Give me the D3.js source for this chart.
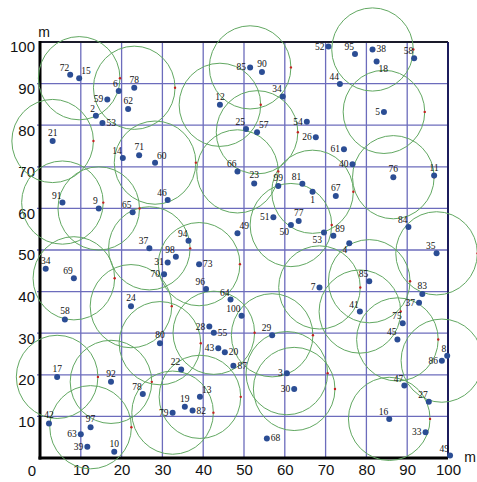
<!DOCTYPE html>
<html>
<head>
<meta charset="utf-8">
<script src="https://cdn.jsdelivr.net/npm/d3@7"></script>
<style>
  body { margin: 0; background: #fff; }
  svg { display: block; }
</style>
</head>
<body>
<div id="chart"></div>
<script>
// node ids, positions (m) and which nodes carry a coverage circle
var ids = [72, 15, 6, 78, 59, 62, 2, 53, 21, 14, 71, 60, 85, 90, 12, 34, 25, 57, 54, 26,
  66, 23, 99, 81, 52, 95, 38, 18, 58, 44, 5, 61, 40, 76, 11, 91, 9, 65, 37, 34,
  69, 24, 58, 46, 51, 77, 50, 49, 94, 98, 31, 73, 70, 96, 64, 100, 1, 67, 84, 89,
  53, 4, 35, 85, 7, 83, 37, 41, 75, 17, 92, 78, 42, 97, 63, 39, 10, 80, 28, 55,
  29, 43, 20, 87, 22, 3, 30, 13, 19, 79, 82, 68, 45, 8, 86, 47, 27, 16, 33, 49];
var xs = [7.4, 9.6, 19.3, 23.1, 16.5, 21.6, 13.7, 15.3, 3.1, 20.3, 24.3, 28.2, 51.5, 54.4, 44.1, 59.5, 50.5, 53.2, 65.4, 67.6,
  48.4, 52.5, 58.4, 64.3, 70.7, 77.2, 81.5, 82.5, 91.7, 73.5, 84.3, 74.5, 76.6, 86.6, 96.6, 5.5, 14.4, 22.7, 26.8, 1.4,
  8.3, 22.3, 6.1, 31.3, 57.2, 63.4, 61.5, 48.4, 36.4, 33.3, 31.3, 39.0, 30.4, 40.7, 46.7, 49.4, 66.8, 72.5, 90.3, 71.9,
  69.6, 75.8, 97.2, 80.7, 68.5, 93.7, 92.9, 78.4, 88.9, 4.2, 17.4, 25.2, 2.2, 12.4, 10.0, 11.6, 18.2, 29.4, 41.5, 42.6,
  56.9, 43.7, 45.3, 47.4, 34.6, 60.5, 62.3, 39.2, 35.5, 32.5, 37.4, 55.6, 87.6, 99.8, 98.5, 89.3, 95.3, 85.6, 94.5, 100.5];
var ys = [92.1, 91.3, 88.2, 89.0, 86.2, 83.9, 82.3, 80.5, 76.2, 72.1, 72.8, 71.0, 93.9, 92.8, 84.9, 86.9, 79.1, 78.3, 80.8, 77.1,
  68.9, 66.0, 65.4, 65.9, 98.9, 97.1, 98.2, 95.3, 96.1, 89.9, 83.2, 74.2, 70.6, 67.5, 67.9, 61.4, 60.0, 59.1, 50.4, 45.5,
  43.2, 36.5, 33.3, 62.0, 57.9, 57.0, 56.0, 54.0, 52.2, 48.4, 47.0, 46.6, 44.2, 40.6, 38.1, 34.2, 64.0, 63.0, 55.5, 53.4,
  54.2, 51.6, 49.2, 42.5, 41.0, 39.4, 37.3, 35.2, 32.4, 19.5, 18.3, 15.4, 8.3, 7.4, 5.7, 2.7, 1.5, 27.6, 31.6, 30.1,
  29.5, 26.4, 25.4, 22.2, 21.3, 20.4, 16.6, 14.7, 12.3, 10.9, 11.4, 4.7, 28.5, 24.6, 23.4, 17.4, 13.5, 9.4, 6.2, 0.6];
// index into the node arrays of every node with a circle
var circleNodes = [1, 3, 8, 12, 14, 17, 20, 11, 35, 36, 40, 41, 38, 51, 46, 56, 33, 62, 63, 64,
  67, 92, 94, 97, 85, 86, 80, 77, 79, 69, 70, 73, 89, 87, 26, 30];
var coverRange = 10;
var xTicks = [10, 20, 30, 40, 50, 60, 70, 80, 90, 100];
var yTicks = [10, 20, 30, 40, 50, 60, 70, 80, 90, 100];

// label placement around each dot (a above, l left, r right, b below ...)
var labelSide = ["al","ar","al","a","l","a","al","r","a","al","a","ar","l","a","a","al","al","ar","l","l",
  "al","a","a","al","l","al","r","br","al","al","l","l","l","a","a","al","al","al","al","a",
  "al","a","a","al","l","a","bl","ar","al","al","l","r","l","al","al","al","b","a","al","ar",
  "bl","bl","al","al","l","a","l","al","al","a","a","al","a","a","l","l","a","a","l","r",
  "al","l","r","r","al","l","l","ar","a","l","r","r","al","al","l","al","al","al","l","al"];

var W = 477, H = 482;
var svg = d3.select("#chart").append("svg").attr("width", W).attr("height", H);

var x = d3.scaleLinear().domain([0, 100]).range([40, 448]);
var y = d3.scaleLinear().domain([0, 100]).range([458, 42]);

// grid
var grid = svg.append("g");
grid.selectAll(".vx").data(xTicks.slice(0, -1)).enter().append("line")
  .attr("x1", d => x(d)).attr("x2", d => x(d))
  .attr("y1", y(100)).attr("y2", y(0))
  .attr("stroke", "#6c6cbc").attr("stroke-width", 1.3);
grid.selectAll(".hy").data(yTicks.slice(0, -1)).enter().append("line")
  .attr("x1", x(0) - 3).attr("x2", x(100))
  .attr("y1", d => y(d)).attr("y2", d => y(d))
  .attr("stroke", "#6c6cbc").attr("stroke-width", 1.3);

// frame
svg.append("line").attr("x1", x(0)).attr("x2", x(100)).attr("y1", y(100)).attr("y2", y(100))
  .attr("stroke", "#1a1a2a").attr("stroke-width", 2);
svg.append("line").attr("x1", x(100)).attr("x2", x(100)).attr("y1", y(100)).attr("y2", y(0))
  .attr("stroke", "#1c1c5c").attr("stroke-width", 2);
svg.append("line").attr("x1", x(0)).attr("x2", x(0)).attr("y1", y(100) - 1).attr("y2", y(0) + 1.5)
  .attr("stroke", "#000").attr("stroke-width", 3);
svg.append("line").attr("x1", x(0) - 1.5).attr("x2", x(100)).attr("y1", y(0)).attr("y2", y(0))
  .attr("stroke", "#000").attr("stroke-width", 3);

// axes labels
var yAxis = svg.append("g").attr("transform", "translate(" + x(0) + ",0)")
  .call(d3.axisLeft(y).tickValues(yTicks).tickSize(0).tickPadding(5));
yAxis.select(".domain").remove();
yAxis.selectAll("text").attr("transform", "translate(0,5)")
  .style("font-family", "Liberation Sans, Arial, sans-serif").style("font-size", "15px").attr("fill", "#111");

var xAxis = svg.append("g").attr("transform", "translate(0," + y(0) + ")")
  .call(d3.axisBottom(x).tickValues(xTicks).tickSize(0).tickPadding(6));
xAxis.select(".domain").remove();
xAxis.selectAll("text")
  .style("font-family", "Liberation Sans, Arial, sans-serif").style("font-size", "15px").attr("fill", "#111");

svg.append("text").attr("x", 32).attr("y", 476).attr("text-anchor", "middle")
  .style("font-family", "Liberation Sans, Arial, sans-serif").style("font-size", "15px").attr("fill", "#111")
  .text("0");
svg.append("text").attr("x", 44).attr("y", 37).attr("text-anchor", "middle")
  .style("font-family", "Liberation Sans, Arial, sans-serif").style("font-size", "14px").attr("fill", "#111")
  .text("m");
svg.append("text").attr("x", 470).attr("y", 462).attr("text-anchor", "middle")
  .style("font-family", "Liberation Sans, Arial, sans-serif").style("font-size", "14px").attr("fill", "#111")
  .text("m");

// coverage circles
var rx = x(coverRange) - x(0), ry = y(0) - y(coverRange);
svg.append("g").selectAll("ellipse").data(circleNodes).enter().append("ellipse")
  .attr("cx", i => x(xs[i])).attr("cy", i => y(ys[i]))
  .attr("rx", rx).attr("ry", ry)
  .attr("fill", "none").attr("stroke", "#62a862").attr("stroke-width", 1);
svg.append("g").selectAll("circle").data(circleNodes).enter().append("circle")
  .attr("cx", i => x(xs[i]) + rx).attr("cy", i => y(ys[i]))
  .attr("r", 1.2).attr("fill", "#c62020");

// nodes
var nodes = ids.map((id, i) => ({ id: id, x: xs[i], y: ys[i], side: labelSide[i] }));
svg.append("g").selectAll("circle").data(nodes).enter().append("circle")
  .attr("cx", d => x(d.x)).attr("cy", d => y(d.y)).attr("r", 3)
  .attr("fill", "#2b4d94");

var off = {
  a:  [0, -5, "middle"], al: [-1, -4, "end"], ar: [2, -4, "start"],
  l:  [-4, 3, "end"],    r:  [4, 3, "start"],
  b:  [0, 11, "middle"], bl: [-2, 10, "end"], br: [2, 10, "start"]
};
svg.append("g").selectAll("text").data(nodes).enter().append("text")
  .attr("x", d => x(d.x) + off[d.side][0])
  .attr("y", d => y(d.y) + off[d.side][1])
  .attr("text-anchor", d => off[d.side][2])
  .style("font-family", "Liberation Serif, Times New Roman, serif")
  .style("font-size", "9.5px").attr("fill", "#111")
  .text(d => d.id);
</script>
</body>
</html>
